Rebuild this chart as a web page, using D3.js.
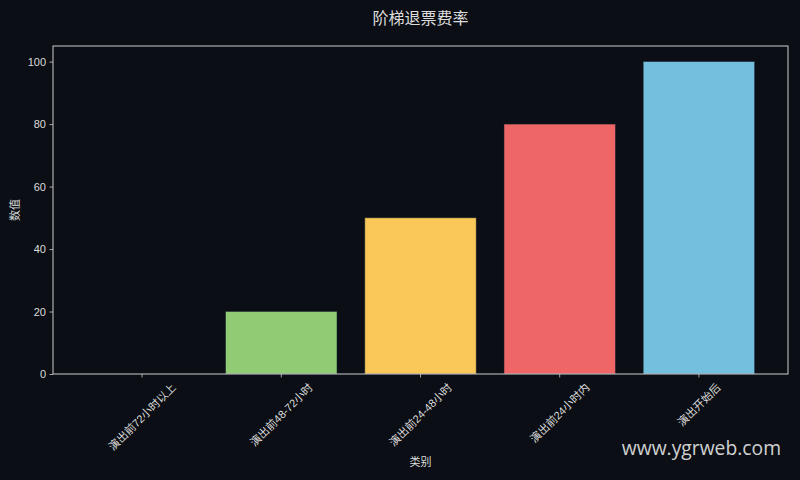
<!DOCTYPE html>
<html>
<head>
<meta charset="utf-8">
<script src="https://cdn.jsdelivr.net/npm/d3@7"></script>
<style>
  html, body { margin: 0; padding: 0; background: #0b0e14; }
  svg { display: block; }
</style>
</head>
<body>
<svg id="chart"></svg>
<script>
let w = 800
let h = 480

// data
let categories = ["演出前72小时以上", "演出前48-72小时", "演出前24-48小时", "演出前24小时内", "演出开始后"]
let values = [0, 20, 50, 80, 100]
let barColors = ["#5470c6", "#91cc75", "#fac858", "#ee6666", "#73c0de"]
let yTicks = [0, 20, 40, 60, 80, 100]

let titleText = "阶梯退票费率"
let xLabel = "类别"
let yLabel = "数值"
let watermark = "www.ygrweb.com"

let margin = { top: 46, right: 12, bottom: 106, left: 53 }
let fg = "#dcdcdc"
let spine = "#cccccc"
let font = "'Liberation Sans', 'Noto Sans CJK SC', sans-serif"

let svg = d3.select('#chart')
  .attr('width', w)
  .attr('height', h)
  .style('font-family', font)

svg.append('rect')
  .attr('width', w)
  .attr('height', h)
  .attr('fill', '#0b0e14')

let x = d3.scaleBand()
  .domain(categories)
  .range([margin.left, w - margin.right])
  .paddingInner(0.2)
  .paddingOuter(0.24)

let y = d3.scaleLinear()
  .domain([0, 105])
  .range([h - margin.bottom, margin.top])

let axCenter = (margin.left + w - margin.right) / 2

// bars
svg.append('g')
  .selectAll('rect')
  .data(values)
  .join('rect')
  .attr('x', (d, i) => x(categories[i]))
  .attr('y', (d) => y(d))
  .attr('width', x.bandwidth())
  .attr('height', (d) => y(0) - y(d))
  .attr('fill', (d, i) => barColors[i])
  .attr('stroke', 'rgba(30,40,55,0.6)')
  .attr('stroke-width', 0.8)

// y axis
let yAxis = svg.append('g')
  .attr('transform', 'translate(' + margin.left + ',0)')
  .call(d3.axisLeft(y).tickValues(yTicks).tickSize(3.5).tickPadding(3.5))
yAxis.select('.domain').remove()
yAxis.selectAll('line').attr('stroke', spine).attr('stroke-width', 0.8)
yAxis.selectAll('text')
  .attr('fill', fg)
  .style('font-size', '11px')
  .style('font-family', font)

// x axis
let xAxis = svg.append('g')
  .attr('transform', 'translate(0,' + y(0) + ')')
  .call(d3.axisBottom(x).tickSize(3.5).tickSizeOuter(0))
xAxis.select('.domain').remove()
xAxis.selectAll('line').attr('stroke', spine).attr('stroke-width', 0.8)
xAxis.selectAll('text').remove()

// rotated tick labels, bounding box centred under the tick
categories.forEach((c) => {
  let t = svg.append('text')
    .text(c)
    .attr('fill', fg)
    .style('font-size', '11px')
    .attr('text-anchor', 'middle')
    .attr('dominant-baseline', 'central')
  let len = t.node().getComputedTextLength()
  let half = (len + 11) / (2 * Math.SQRT2)
  let cx = x(c) + x.bandwidth() / 2
  t.attr('transform', 'translate(' + cx + ',' + (y(0) + 7.5 + half) + ') rotate(-45)')
})

// frame
svg.append('rect')
  .attr('x', margin.left)
  .attr('y', margin.top)
  .attr('width', w - margin.left - margin.right)
  .attr('height', h - margin.top - margin.bottom)
  .attr('fill', 'none')
  .attr('stroke', spine)
  .attr('stroke-width', 1)

// title and axis labels
svg.append('text')
  .text(titleText)
  .attr('x', axCenter)
  .attr('y', 24)
  .attr('text-anchor', 'middle')
  .attr('fill', fg)
  .style('font-size', '16px')

svg.append('text')
  .text(xLabel)
  .attr('x', axCenter)
  .attr('y', 466)
  .attr('text-anchor', 'middle')
  .attr('fill', fg)
  .style('font-size', '11px')

svg.append('text')
  .text(yLabel)
  .attr('transform', 'translate(19,' + (margin.top + h - margin.bottom) / 2 + ') rotate(-90)')
  .attr('text-anchor', 'middle')
  .attr('fill', fg)
  .style('font-size', '11px')

// watermark
svg.append('text')
  .text(watermark)
  .attr('x', 781)
  .attr('y', 455)
  .attr('text-anchor', 'end')
  .attr('fill', 'rgba(255,255,255,0.82)')
  .style('font-family', "'Open Sans', sans-serif")
  .style('font-size', '19.3px')
</script>
</body>
</html>
